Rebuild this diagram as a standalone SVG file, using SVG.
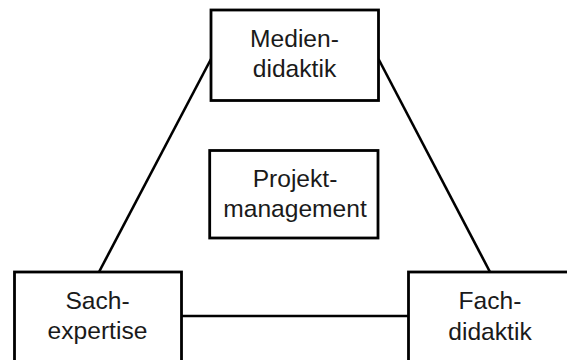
<svg xmlns="http://www.w3.org/2000/svg" width="567" height="360" viewBox="0 0 567 360">
  <style>
    .box { fill: #ffffff; stroke: #000000; stroke-width: 2.8; }
    .edge { stroke: #000000; stroke-width: 2.6; fill: none; }
    .label { font-family: "Liberation Sans", Arial, sans-serif; font-size: 24.6px; fill: #1a1a1a; text-anchor: middle; }
  </style>
  <rect width="567" height="360" fill="#ffffff"/>

  <g id="connectors">
    <line class="edge" x1="211" y1="59" x2="99" y2="272"/>
    <line class="edge" x1="378.5" y1="59" x2="490" y2="272"/>
    <line class="edge" x1="181.5" y1="316" x2="408.5" y2="316"/>
  </g>

  <g id="mediendidaktik">
    <rect class="box" x="211" y="10" width="167.5" height="90.5"/>
    <text class="label" x="294.5" y="47">Medien-</text>
    <text class="label" x="294.5" y="77">didaktik</text>
  </g>

  <g id="projektmanagement">
    <rect class="box" x="209.7" y="150.5" width="168.3" height="87.5"/>
    <text class="label" x="295" y="187">Projekt-</text>
    <text class="label" x="295" y="217">management</text>
  </g>

  <g id="sachexpertise">
    <rect class="box" x="14.5" y="272" width="167" height="95"/>
    <text class="label" x="97.5" y="309">Sach-</text>
    <text class="label" x="97.5" y="339">expertise</text>
  </g>

  <g id="fachdidaktik">
    <rect class="box" x="408.5" y="272" width="170" height="95"/>
    <text class="label" x="490" y="309">Fach-</text>
    <text class="label" x="490" y="340">didaktik</text>
  </g>
</svg>
